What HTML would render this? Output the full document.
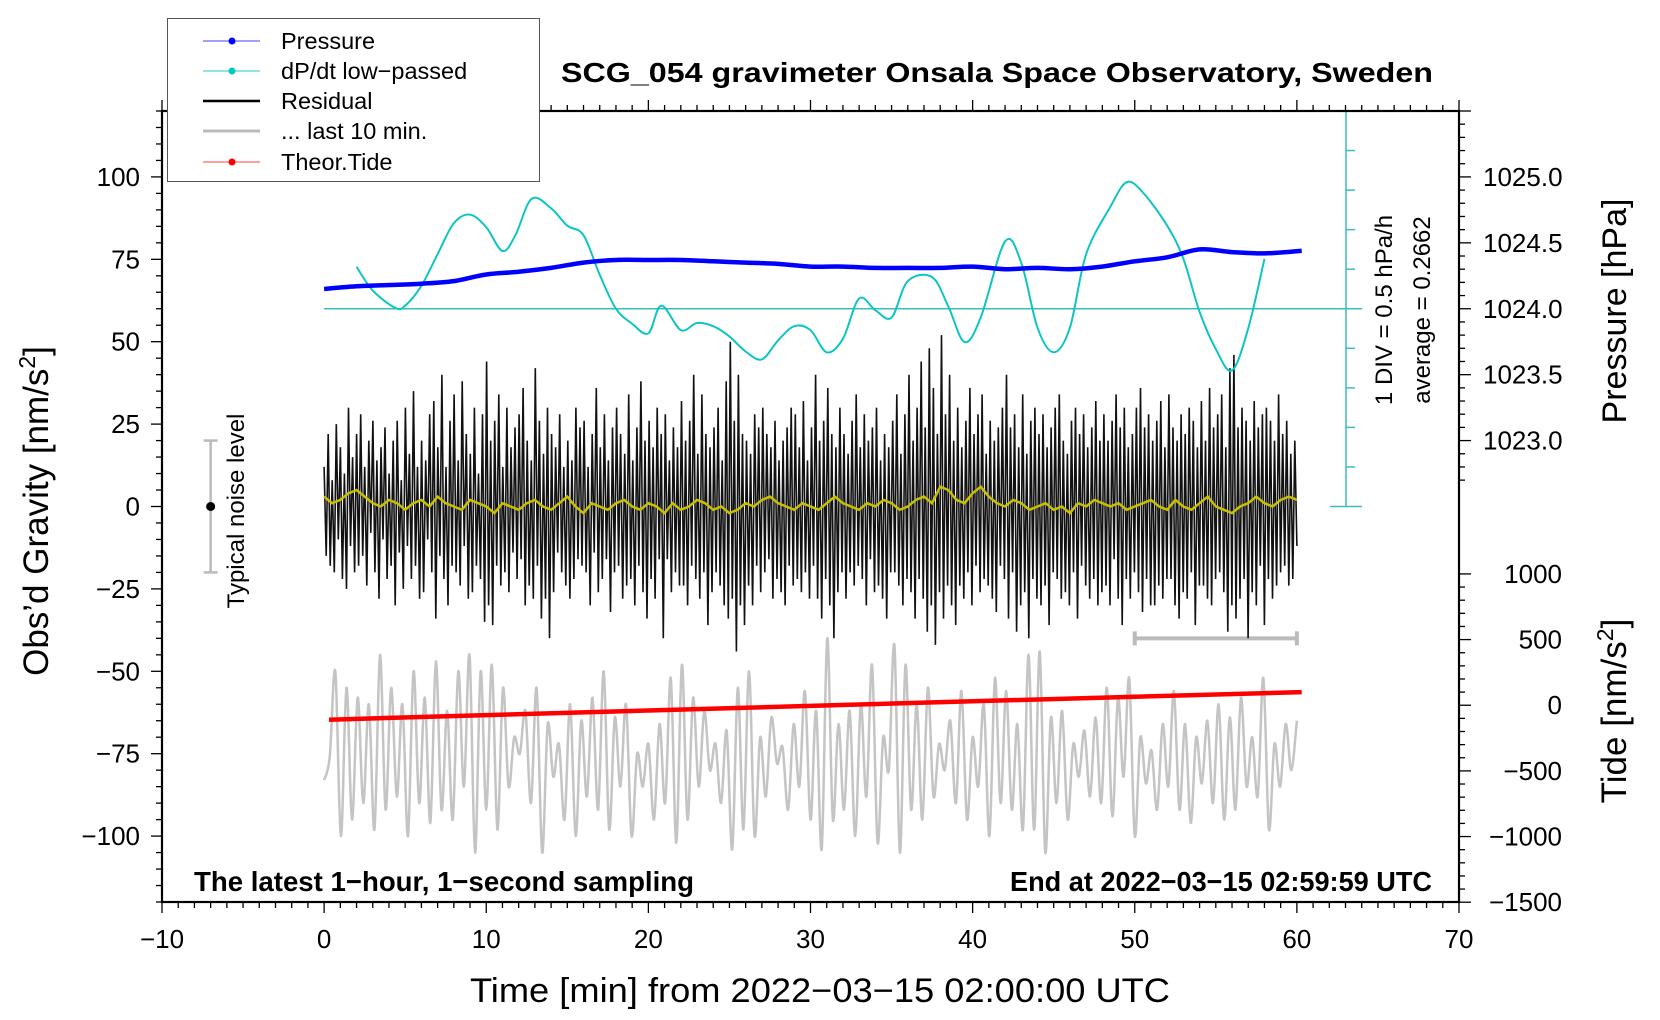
<!DOCTYPE html>
<html><head><meta charset="utf-8"><style>
html,body{margin:0;padding:0;background:#fff;}
svg{display:block;font-family:"Liberation Sans",Arial,sans-serif;}
</style></head><body>
<svg id="chart" width="1660" height="1020" viewBox="0 0 1660 1020" xmlns="http://www.w3.org/2000/svg">
<rect x="0" y="0" width="1660" height="1020" fill="#fff"/>
<text x="997" y="82" text-anchor="middle" font-size="28" font-weight="bold" textLength="872" lengthAdjust="spacingAndGlyphs">SCG_054 gravimeter Onsala Space Observatory, Sweden</text>
<text x="194" y="891" font-size="28" font-weight="bold" textLength="500" lengthAdjust="spacingAndGlyphs">The latest 1−hour, 1−second sampling</text>
<text x="1432" y="891" text-anchor="end" font-size="28" font-weight="bold" textLength="422" lengthAdjust="spacingAndGlyphs">End at 2022−03−15 02:59:59 UTC</text>
<text x="820" y="1002" text-anchor="middle" font-size="34" textLength="700" lengthAdjust="spacingAndGlyphs">Time [min] from 2022−03−15 02:00:00 UTC</text>
<text transform="translate(48,511) rotate(-90)" text-anchor="middle" font-size="35">Obs’d Gravity [nm/s<tspan dy="-13" font-size="23">2</tspan><tspan dy="13">]</tspan></text>
<text transform="translate(1626,311) rotate(-90)" text-anchor="middle" font-size="34">Pressure [hPa]</text>
<text transform="translate(1626,711) rotate(-90)" text-anchor="middle" font-size="35">Tide [nm/s<tspan dy="-13" font-size="23">2</tspan><tspan dy="13">]</tspan></text>
<text transform="translate(1392,310) rotate(-90)" text-anchor="middle" font-size="24">1 DIV = 0.5 hPa/h</text>
<text transform="translate(1430,310) rotate(-90)" text-anchor="middle" font-size="24">average = 0.2662</text>
<text transform="translate(244,511) rotate(-90)" text-anchor="middle" font-size="24">Typical noise level</text>
<g id="layer"></g>
<g id="legend">
<rect x="167.5" y="18.5" width="372" height="163" fill="#fff" stroke="#555" stroke-width="1"/>
<g><line x1="203" y1="41" x2="260" y2="41" stroke="#4040ff" stroke-width="1"/><circle cx="232" cy="41" r="3.5" fill="#0000ff"/><text x="281" y="49" font-size="23.5">Pressure</text></g>
<g><line x1="203" y1="71" x2="260" y2="71" stroke="#20c8c8" stroke-width="1"/><circle cx="232" cy="71" r="3.5" fill="#00c8c8"/><text x="281" y="79" font-size="23.5">dP/dt low−passed</text></g>
<g><line x1="203" y1="101" x2="260" y2="101" stroke="#000" stroke-width="2.5"/><text x="281" y="109" font-size="23.5">Residual</text></g>
<g><line x1="203" y1="131" x2="260" y2="131" stroke="#bbb" stroke-width="3"/><text x="281" y="139" font-size="23.5">... last 10 min.</text></g>
<g><line x1="203" y1="162" x2="260" y2="162" stroke="#ff4040" stroke-width="1"/><circle cx="232" cy="162" r="3.5" fill="#ff0000"/><text x="281" y="170" font-size="23.5">Theor.Tide</text></g>
</g>
</svg>
<script>
// ---------- data ----------
const xTicks = [-10,0,10,20,30,40,50,60,70];
const yTicks = [-100,-75,-50,-25,0,25,50,75,100];
const pressureTicks = [1023.0,1023.5,1024.0,1024.5,1025.0];
const tideTicks = [-1500,-1000,-500,0,500,1000];
const residual = [
12,-15,22,-18,8,-20,25,-10, 18,-22,10,-25,30,-12,15,-20, 22,-18,28,-15,12,-24,20,-8, 26,-20,14,-28,18,-10,24,-22,
10,-18,20,-30,26,-14,8,-25, 30,-12,16,-22,35,-18,12,-28, 20,-26,14,-10,28,-20,32,-34, 18,-15,40,-22,12,-30,26,-18,
34,-20,14,-24,38,-12,22,-28, 16,-26,30,-18,10,-22,28,-35, 44,-30,20,-36,26,-18,34,-24, 12,-20,30,-26,18,-14,24,-22,
28,-16,36,-30,20,-24,14,-28, 42,-18,26,-34,16,-28,30,-40, 22,-26,18,-14,28,-20,12,-24, 20,-28,14,-22,30,-16,24,-18,
26,-20,12,-30,22,-14,36,-26, 18,-22,28,-16,14,-32,24,-20, 30,-18,22,-28,16,-24,34,-22, 14,-30,24,-18,38,-26,20,-34,
26,-22,18,-28,30,-16,22,-40, 28,-16,14,-26,24,-20,18,-24, 32,-24,20,-30,26,-18,40,-22, 16,-28,34,-20,22,-36,18,-26,
24,-20,30,-24,14,-30,38,-34, 50,-28,26,-44,40,-30,22,-36, 20,-24,16,-30,28,-18,24,-26, 30,-20,22,-16,18,-28,26,-22,
14,-26,20,-30,24,-18,30,-24, 28,-22,18,-26,32,-20,14,-28, 24,-18,40,-28,20,-34,26,-22, 36,-30,22,-40,18,-26,30,-20,
22,-28,16,-20,26,-24,34,-18, 18,-22,28,-30,20,-16,24,-26, 30,-24,14,-28,22,-34,18,-20, 26,-20,34,-24,16,-30,28,-22,
40,-26,20,-34,30,-22,44,-28, 24,-38,48,-30,36,-42,22,-26, 52,-34,28,-24,40,-30,20,-36, 30,-24,18,-28,26,-20,36,-30,
22,-18,28,-26,34,-22,16,-24, 26,-28,20,-32,24,-18,30,-22, 40,-34,24,-20,28,-38,18,-30, 34,-26,16,-40,26,-22,30,-28,
22,-30,28,-24,18,-36,24,-20, 30,-22,34,-28,20,-26,16,-30, 26,-20,30,-34,22,-18,28,-24, 18,-28,24,-22,32,-30,20,-26,
28,-24,20,-30,26,-16,34,-28, 24,-36,30,-22,18,-28,22,-20, 30,-26,36,-32,24,-22,28,-30, 20,-30,26,-24,32,-28,18,-22,
34,-22,24,-30,20,-34,28,-26, 22,-28,30,-20,26,-36,18,-24, 32,-24,20,-28,36,-30,24,-22, 28,-20,34,-26,18,-38,42,-30,
46,-34,24,-28,30,-22,26,-40, 20,-26,32,-30,24,-18,28,-36, 30,-22,26,-28,20,-24,34,-20, 22,-18,26,-24,16,-22,20,-12];
const smoothed = [
3,1,2,4,5,3,1,0,2,1,-1,1,2,0,3,1,0,-1,2,1,
0,-2,1,0,-1,1,2,0,-1,1,3,0,-2,1,0,-1,1,2,0,-1,
1,0,-2,1,-1,0,2,1,-1,0,-2,-1,1,0,2,3,1,0,-1,1,
0,-1,1,3,1,0,-1,1,0,2,1,-1,0,2,3,1,6,5,2,1,
4,6,3,1,0,2,1,-1,0,1,-1,0,-2,1,0,2,1,0,1,-1,
0,1,2,0,-1,2,0,-1,1,3,0,-1,-2,0,1,3,1,0,2,3,2];
const last10 = [-83,-76,-50,-100,-55,-95,-58,-90,-60,-98,-45,-92,-55,-88,-60,-100,-50,-90,-58,-96,-47,-92,-62,-95,-50,-85,-45,-105,-50,-92,-48,-98,-55,-85,-70,-75,-62,-90,-55,-105,-66,-82,-72,-95,-60,-100,-65,-88,-58,-92,-50,-98,-64,-85,-60,-100,-75,-85,-72,-95,-66,-90,-52,-102,-48,-95,-58,-85,-62,-80,-72,-90,-68,-104,-55,-98,-50,-100,-70,-88,-64,-78,-73,-92,-66,-85,-56,-95,-62,-104,-40,-95,-66,-92,-62,-100,-60,-88,-48,-102,-70,-80,-42,-105,-48,-92,-60,-95,-55,-88,-72,-80,-65,-90,-56,-95,-70,-85,-60,-100,-52,-90,-56,-92,-66,-98,-45,-98,-44,-105,-64,-90,-62,-95,-72,-82,-68,-88,-64,-90,-55,-94,-58,-82,-52,-100,-70,-84,-74,-92,-66,-85,-56,-92,-66,-96,-70,-84,-65,-90,-60,-95,-64,-92,-58,-85,-70,-88,-52,-98,-72,-85,-66,-80,-65];
const pressureTimes = [0,2,4,6,8,10,12,14,16,18,20,22,24,26,28,30,32,34,36,38,40,42,44,46,48,50,52,54,56,58,60.3];
const pressureHPa = [1024.15,1024.17,1024.18,1024.19,1024.21,1024.26,1024.28,1024.31,1024.35,1024.37,1024.37,1024.37,1024.36,1024.35,1024.34,1024.32,1024.32,1024.31,1024.31,1024.31,1024.32,1024.30,1024.31,1024.30,1024.32,1024.36,1024.39,1024.45,1024.43,1024.42,1024.44];
const dpdtTimes = [2,3,4.4,5,6,7,8,9,10,11,11.8,12.8,14,15,16,17,18,19,20,20.8,22,23,24,25,26,27,28,29,30,31,32,33,34,35,36,37.5,38.5,39.5,40.5,42,43,44,45,46,47,48.5,49.5,50.5,52,53,54,55,56,57,58];
const dpdtValues = [0.53,0.23,0.01,0.04,0.29,0.69,1.08,1.19,1.03,0.73,0.93,1.39,1.27,1.05,0.93,0.43,0,-0.19,-0.31,0.04,-0.27,-0.18,-0.22,-0.35,-0.54,-0.64,-0.40,-0.22,-0.27,-0.55,-0.38,0.13,-0.02,-0.11,0.35,0.40,0.03,-0.42,-0.11,0.85,0.58,-0.24,-0.55,-0.24,0.69,1.29,1.60,1.47,1.05,0.63,-0.04,-0.51,-0.78,-0.25,0.63];
const tideTimes = [0.3,10,20,30,40,50,60.3];
const tideValues = [-110,-75,-40,-5,30,65,100];
const noiseLevel = [-20,20];
const dpdtAverage = 0.2662;

// ---------- axes ----------
const L=162,R=1459,T=111,B=902;
const X = t => L + (t+10)*(R-L)/80;
const Y = v => 506.5 - v*(B-T)/240;
const Pv = p => 60 + (p-1024)*40;
const Tv = tide => -60.3 + tide/25.1;
const Dv = d => 60 + d*24;
const NS="http://www.w3.org/2000/svg";
const layer=document.getElementById('layer');
function mk(tag,attrs,parent){const e=document.createElementNS(NS,tag);for(const k in attrs)e.setAttribute(k,attrs[k]);(parent||layer).appendChild(e);return e;}
function smoothPath(pts){
  let d='M'+pts[0][0].toFixed(1)+','+pts[0][1].toFixed(1);
  for(let i=0;i<pts.length-1;i++){
    const p0=pts[Math.max(0,i-1)],p1=pts[i],p2=pts[i+1],p3=pts[Math.min(pts.length-1,i+2)];
    const c1x=p1[0]+(p2[0]-p0[0])/6,c1y=p1[1]+(p2[1]-p0[1])/6;
    const c2x=p2[0]-(p3[0]-p1[0])/6,c2y=p2[1]-(p3[1]-p1[1])/6;
    d+=' C'+c1x.toFixed(1)+','+c1y.toFixed(1)+' '+c2x.toFixed(1)+','+c2y.toFixed(1)+' '+p2[0].toFixed(1)+','+p2[1].toFixed(1);
  }
  return d;
}

// ticks
let tg=mk('g',{stroke:'#000','stroke-width':1.3});


for(let t=-10;t<=70;t++){const maj=t%10===0;const x=X(t);
  mk('line',{x1:x,y1:B,x2:x,y2:B+(maj?11:6)},tg);
  mk('line',{x1:x,y1:T,x2:x,y2:T-(maj?11:6)},tg);}
for(let v=-120;v<=120;v+=5){const maj=v%25===0;const y=Y(v);
  mk('line',{x1:L,y1:y,x2:L-(maj?11:6),y2:y},tg);}
for(let i=0;i<=28;i++){const p=1022.7+i*0.1;const maj=Math.abs(p*2-Math.round(p*2))<1e-6;const y=Y(Pv(p));
  mk('line',{x1:R,y1:y,x2:R+(maj?12:6),y2:y},tg);}
for(let tide=-1500;tide<=1000;tide+=100){const maj=tide%500===0;const y=Y(Tv(tide));
  mk('line',{x1:R,y1:y,x2:R+(maj?12:6),y2:y},tg);}

// tick labels
xTicks.forEach(t=>{const e=mk('text',{x:X(t),y:948,'text-anchor':'middle','font-size':26});e.textContent=String(t).replace('-','−');

});
yTicks.forEach(v=>{const e=mk('text',{x:140,y:Y(v)+9,'text-anchor':'end','font-size':26});e.textContent=String(v).replace('-','−');

});
pressureTicks.forEach(p=>{const e=mk('text',{x:1483,y:Y(Pv(p))+9,'font-size':26});e.textContent=p.toFixed(1);

});
tideTicks.forEach(v=>{const e=mk('text',{x:1562,y:Y(Tv(v))+9,'text-anchor':'end','font-size':26});e.textContent=String(v).replace('-','−');

});

// dP/dt scale bar
const sb=mk('g',{stroke:'#3cbcbc','stroke-width':1.5});


mk('line',{x1:1346,y1:Y(Dv(-2.5)),x2:1346,y2:Y(Dv(2.5))},sb);
mk('line',{x1:1330,y1:Y(Dv(-2.5)),x2:1362,y2:Y(Dv(-2.5))},sb);
mk('line',{x1:1330,y1:Y(Dv(2.5)),x2:1362,y2:Y(Dv(2.5))},sb);
for(let d=-2;d<=2;d+=0.5){mk('line',{x1:1346,y1:Y(Dv(d)),x2:1355,y2:Y(Dv(d))},sb);}
const zl=mk('line',{x1:X(0),y1:Y(Dv(0)),x2:1362,y2:Y(Dv(0)),stroke:'#3cbcbc','stroke-width':1.5});



// noise level bar
const nb=mk('g',{});


mk('line',{x1:X(-7),y1:Y(noiseLevel[0]),x2:X(-7),y2:Y(noiseLevel[1]),stroke:'#bbb','stroke-width':2.5},nb);
mk('line',{x1:X(-7)-7,y1:Y(noiseLevel[0]),x2:X(-7)+7,y2:Y(noiseLevel[0]),stroke:'#bbb','stroke-width':2.5},nb);
mk('line',{x1:X(-7)-7,y1:Y(noiseLevel[1]),x2:X(-7)+7,y2:Y(noiseLevel[1]),stroke:'#bbb','stroke-width':2.5},nb);
mk('circle',{cx:X(-7),cy:Y(0),r:4.5,fill:'#000'},nb);

// last-10-min marker
const lm=mk('g',{stroke:'#bbb','stroke-width':4});


mk('line',{x1:X(50),y1:Y(-40),x2:X(60),y2:Y(-40)},lm);
mk('line',{x1:X(50),y1:Y(-40)-7,x2:X(50),y2:Y(-40)+7},lm);
mk('line',{x1:X(60),y1:Y(-40)-7,x2:X(60),y2:Y(-40)+7},lm);

// gray last 10 min series
const gpts=last10.map((v,i)=>[X(i*60/(last10.length-1)),Y(v)]);
const gp=mk('path',{d:smoothPath(gpts),fill:'none',stroke:'#c4c4c4','stroke-width':2.5});



// residual
const rp=mk('polyline',{points:residual.map((v,i)=>X(i*60/(residual.length-1)).toFixed(1)+','+Y(v).toFixed(1)).join(' '),fill:'none',stroke:'#111','stroke-width':1.6,'stroke-linejoin':'miter'});



// smoothed residual (yellow)
const yp=mk('polyline',{points:smoothed.map((v,i)=>X(i*0.5).toFixed(1)+','+Y(v).toFixed(1)).join(' '),fill:'none',stroke:'#c8c000','stroke-width':2.5});



// dP/dt
const dp=mk('path',{d:smoothPath(dpdtTimes.map((t,i)=>[X(t),Y(Dv(dpdtValues[i]))])),fill:'none',stroke:'#10c4c4','stroke-width':2});



// pressure
const pp=mk('path',{d:smoothPath(pressureTimes.map((t,i)=>[X(t),Y(Pv(pressureHPa[i]))])),fill:'none',stroke:'#0000ff','stroke-width':4.5});



// tide
const tp=mk('polyline',{points:tideTimes.map((t,i)=>X(t).toFixed(1)+','+Y(Tv(tideValues[i])).toFixed(1)).join(' '),fill:'none',stroke:'#ff0000','stroke-width':4.5});



// frame
const fr=mk('rect',{x:L,y:T,width:R-L,height:B-T,fill:'none',stroke:'#000','stroke-width':2.2});


</script>
</body></html>
